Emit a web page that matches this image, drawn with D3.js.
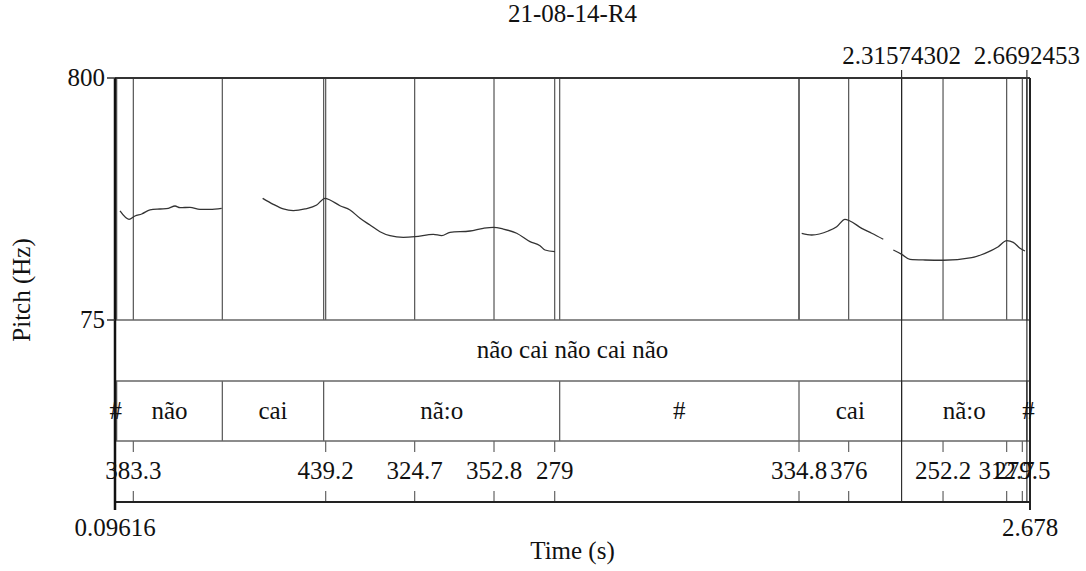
<!DOCTYPE html>
<html>
<head>
<meta charset="utf-8">
<script src="https://cdn.jsdelivr.net/npm/d3@7"></script>
<style>
  body { margin: 0; background: #fff; }
</style>
</head>
<body>
<svg width="1086" height="571" font-family="'Liberation Serif', 'Times New Roman', 'DejaVu Serif', serif"></svg>
<script>
// time range of the view
const timeRange = [0.09616, 2.678];
const pitchRange = [75, 800];

// pitch contour, cut into voiced stretches: [time (s), Hz]
const pitchSeg1 = [[0.1103,401.6],[0.1357,376.7],[0.1526,386.6],[0.1715,392.6],[0.1949,404.6],[0.2231,407.6],[0.2466,409.6],[0.2655,416.5],[0.2796,411.4],[0.3078,412.6],[0.3360,406.7],[0.3642,406.7],[0.3972,409.6]];
const pitchSeg2 = [[0.5129,439.6],[0.5428,421.6],[0.5711,407.6],[0.5993,402.5],[0.6323,407.6],[0.6653,419.5],[0.6887,439.6],[0.7028,434.5],[0.7310,417.4],[0.7593,404.6],[0.7875,379.7],[0.8157,359.6],[0.8439,339.5],[0.8721,327.6],[0.9097,322.8],[0.9427,324.6],[0.9943,331.8],[1.0180,327.6],[1.0414,337.7],[1.0979,341.6],[1.1354,349.7],[1.1636,352.7],[1.1918,347.6],[1.2296,334.8],[1.2672,309.6],[1.2954,297.6],[1.3095,284.7],[1.3377,279.6]];
const pitchSeg3 = [[2.0338,334.8],[2.0620,329.7],[2.1088,341.6],[2.1325,354.5],[2.1559,376.7],[2.1700,371.6],[2.2031,349.7],[2.2313,334.8],[2.2640,316.8]];
const pitchSeg4 = [[2.2923,284.7],[2.3160,271.8],[2.3394,256.9],[2.3817,254.8],[2.4334,254.0],[2.5135,261.6],[2.5510,274.8],[2.5885,294.6],[2.6122,312.6],[2.6308,307.8],[2.6497,289.8],[2.6638,281.7]];

// tier 1: one interval
const phraseText = 'não cai não cai não';

// tier 2: word boundaries and labels
const wordBounds = [0.1010, 0.3989, 0.6850, 1.3510, 2.0262, 2.31574302, 2.6692453];
const wordLabels = ['#', 'não', 'cai', 'nã:o', '#', 'cai', 'nã:o', '#'];

// tier 3: pitch points
const pointTimes = [0.1478, 0.6907, 0.9418, 1.1656, 1.3369, 2.0262, 2.1664, 2.4326, 2.6122, 2.6563];
const pointLabels = ['383.3', '439.2', '324.7', '352.8', '279', '334.8', '376', '252.2', '312.7', '279.5'];

// selection markers on top
const selTimes = [2.31574302, 2.6692453];
const selLabels = ['2.31574302', '2.6692453'];

const title = '21-08-14-R4';

const svg = d3.select('svg');
const L = 115, R = 1030;
const yTop = 78, pitchBottom = 320, tier1Bottom = 381, tier2Bottom = 441, yBottom = 502;
const fs = 25;
const ink = '#111';

const x = d3.scaleLinear().domain(timeRange).range([L, R]);
const y = d3.scaleLinear().domain(pitchRange).range([pitchBottom, yTop]);

const allSegs = [pitchSeg1, pitchSeg2, pitchSeg3, pitchSeg4];

// vertical lines in pitch area at word boundaries and points
const gridTimes = wordBounds.concat(pointTimes);
svg.append('g')
  .selectAll('line')
  .data(gridTimes)
  .enter()
  .append('line')
  .attr('x1', d => x(d)).attr('x2', d => x(d))
  .attr('y1', yTop).attr('y2', pitchBottom)
  .attr('stroke', '#444').attr('stroke-width', 1.1);

// word boundaries in tier 2
svg.append('g')
  .selectAll('line')
  .data(wordBounds)
  .enter()
  .append('line')
  .attr('x1', d => x(d)).attr('x2', d => x(d))
  .attr('y1', tier1Bottom).attr('y2', tier2Bottom)
  .attr('stroke', '#444').attr('stroke-width', 1.1);

// point ticks in tier 3
const ticks = svg.append('g')
  .selectAll('g')
  .data(pointTimes)
  .enter()
  .append('g');
ticks.append('line')
  .attr('x1', d => x(d)).attr('x2', d => x(d))
  .attr('y1', tier2Bottom).attr('y2', tier2Bottom + 11)
  .attr('stroke', '#555').attr('stroke-width', 1.1);
ticks.append('line')
  .attr('x1', d => x(d)).attr('x2', d => x(d))
  .attr('y1', yBottom - 11).attr('y2', yBottom)
  .attr('stroke', '#555').attr('stroke-width', 1.1);

// horizontal tier separators
svg.append('g')
  .selectAll('line')
  .data([pitchBottom, tier1Bottom, tier2Bottom])
  .enter()
  .append('line')
  .attr('x1', L).attr('x2', R)
  .attr('y1', d => d).attr('y2', d => d)
  .attr('stroke', '#666').attr('stroke-width', 1.4);

// selection markers
svg.append('g')
  .selectAll('line')
  .data(selTimes)
  .enter()
  .append('line')
  .attr('x1', d => x(d)).attr('x2', d => x(d))
  .attr('y1', yTop - 8).attr('y2', yBottom)
  .attr('stroke', '#222').attr('stroke-width', 1.1);

svg.append('g')
  .selectAll('text')
  .data(selLabels)
  .enter()
  .append('text')
  .attr('x', (d, i) => x(selTimes[i]))
  .attr('y', yTop - 14)
  .attr('text-anchor', 'middle')
  .attr('font-size', fs)
  .attr('fill', ink)
  .text(d => d);

// pitch curve
const line = d3.line().x(d => x(d[0])).y(d => y(d[1])).curve(d3.curveMonotoneX);
svg.append('g')
  .selectAll('path')
  .data(allSegs)
  .enter()
  .append('path')
  .attr('d', line)
  .attr('fill', 'none')
  .attr('stroke', '#333')
  .attr('stroke-width', 1.3);

// frame
svg.append('line').attr('x1', L).attr('x2', R).attr('y1', yTop).attr('y2', yTop)
  .attr('stroke', '#333').attr('stroke-width', 2);
svg.append('line').attr('x1', L).attr('x2', R).attr('y1', yBottom).attr('y2', yBottom)
  .attr('stroke', '#222').attr('stroke-width', 2);
svg.append('line').attr('x1', R).attr('x2', R).attr('y1', yTop).attr('y2', yBottom + 8)
  .attr('stroke', '#222').attr('stroke-width', 2);
svg.append('line').attr('x1', L).attr('x2', L).attr('y1', yTop).attr('y2', yBottom + 8)
  .attr('stroke', '#111').attr('stroke-width', 2.5);

// y ticks
const yTicks = [75, 800];
svg.append('g')
  .selectAll('line')
  .data(yTicks)
  .enter()
  .append('line')
  .attr('x1', L - 8).attr('x2', L)
  .attr('y1', d => y(d)).attr('y2', d => y(d))
  .attr('stroke', '#333').attr('stroke-width', 1.5);
svg.append('g')
  .selectAll('text')
  .data(yTicks)
  .enter()
  .append('text')
  .attr('x', L - 10)
  .attr('y', d => y(d))
  .attr('dy', '0.33em')
  .attr('text-anchor', 'end')
  .attr('font-size', fs)
  .attr('fill', ink)
  .text(d => d);

// x tick labels
svg.append('g')
  .selectAll('text')
  .data(timeRange)
  .enter()
  .append('text')
  .attr('x', d => x(d))
  .attr('y', yBottom + 34)
  .attr('text-anchor', 'middle')
  .attr('font-size', fs)
  .attr('fill', ink)
  .text(d => d);

// tier texts
svg.append('text')
  .attr('x', (L + R) / 2)
  .attr('y', (pitchBottom + tier1Bottom) / 2)
  .attr('dy', '0.3em')
  .attr('text-anchor', 'middle')
  .attr('font-size', fs)
  .attr('fill', ink)
  .text(phraseText);

const edges = [timeRange[0]].concat(wordBounds, [timeRange[1]]);
svg.append('g')
  .selectAll('text')
  .data(wordLabels)
  .enter()
  .append('text')
  .attr('x', (d, i) => (x(edges[i]) + x(edges[i + 1])) / 2)
  .attr('y', (tier1Bottom + tier2Bottom) / 2)
  .attr('dy', '0.3em')
  .attr('text-anchor', 'middle')
  .attr('font-size', fs)
  .attr('fill', ink)
  .text(d => d);

svg.append('g')
  .selectAll('text')
  .data(pointLabels)
  .enter()
  .append('text')
  .attr('x', (d, i) => x(pointTimes[i]))
  .attr('y', (tier2Bottom + yBottom) / 2)
  .attr('dy', '0.3em')
  .attr('text-anchor', 'middle')
  .attr('font-size', fs)
  .attr('fill', ink)
  .text(d => d);

// titles
svg.append('text')
  .attr('x', (L + R) / 2)
  .attr('y', 22)
  .attr('text-anchor', 'middle')
  .attr('font-size', fs)
  .attr('fill', ink)
  .text(title);

svg.append('text')
  .attr('x', (L + R) / 2)
  .attr('y', 559)
  .attr('text-anchor', 'middle')
  .attr('font-size', fs)
  .attr('fill', ink)
  .text('Time (s)');

svg.append('text')
  .attr('transform', `translate(30,${(yTop + yBottom) / 2}) rotate(-90)`)
  .attr('text-anchor', 'middle')
  .attr('font-size', fs)
  .attr('fill', ink)
  .text('Pitch (Hz)');
</script>
</body>
</html>
